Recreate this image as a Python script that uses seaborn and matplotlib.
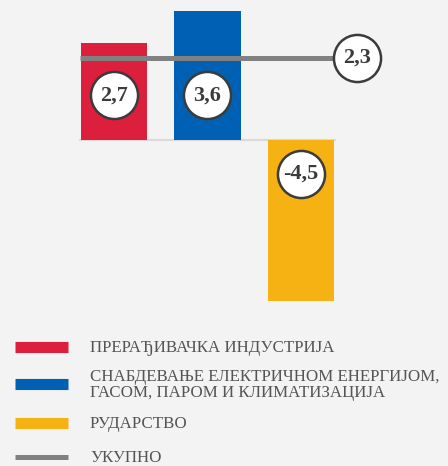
import matplotlib
matplotlib.use("Agg")
import matplotlib.pyplot as plt
import seaborn as sns

# podaci
sektori = ["ПРЕРАЂИВАЧКА ИНДУСТРИЈА",
           "СНАБДЕВАЊЕ ЕЛЕКТРИЧНОМ ЕНЕРГИЈОМ,\nГАСОМ, ПАРОМ И КЛИМАТИЗАЦИЈА",
           "РУДАРСТВО"]
vrednosti = [2.7, 3.6, -4.5]
ukupno = 2.3
ukupno_naziv = "УКУПНО"
boje = ["#dc1f3c", "#0061b4", "#f5b212"]
boja_ukupno = "#818181"
pozadina = "#f2f3f2"

fmt = lambda v: f"{v:.1f}".replace(".", ",")

sns.set_style("white")
plt.rcParams["font.family"] = ["Liberation Serif", "DejaVu Serif"]

fig = plt.figure(figsize=(4.48, 4.66), dpi=100)
fig.patch.set_facecolor(pozadina)

# gornji deo - grafikon
ax = fig.add_axes([0, 1 - 320 / 466, 1, 320 / 466])
ax.set_facecolor(pozadina)
sns.barplot(x=list(range(len(vrednosti))), y=vrednosti, hue=list(range(len(vrednosti))),
            palette=boje, width=0.706, legend=False, ax=ax, saturation=1,
            linewidth=0, zorder=2)

ax.plot([-0.36, 2.36], [0, 0], color="#dadada", lw=1.6, zorder=1)
ax.plot([-0.36, 2.6], [ukupno, ukupno], color=boja_ukupno, lw=3.6, zorder=3,
        solid_capstyle="butt")

krug = dict(s=1150, facecolor="white", edgecolor="#3b3b3b", linewidths=1.8, zorder=4)
tekst = dict(ha="center", va="center", fontsize=16, fontweight="bold",
             color="#3b3b3b", zorder=5)
for i, v in enumerate(vrednosti):
    y = 1.25 if v > 0 else -0.95
    ax.scatter([i], [y], **krug)
    ax.text(i, y, fmt(v), **tekst)
ax.scatter([2.6], [ukupno], **krug)
ax.text(2.6, ukupno, fmt(ukupno), **tekst)

ax.set_xlim(-1.219, 3.572)
ax.set_ylim(-5.03, 3.91)
ax.axis("off")

# legenda
lg = fig.add_axes([0, 0, 1, 146 / 466])
lg.set_xlim(0, 448)
lg.set_ylim(466, 320)
lg.axis("off")
redovi = [347, 384, 423, 457]
nazivi = sektori + [ukupno_naziv]
for y, naziv, boja, lw in zip(redovi, nazivi, boje + [boja_ukupno], [8, 8, 8, 3.6]):
    lg.plot([15, 68], [y, y], color=boja, lw=lw, solid_capstyle="butt")
    lg.text(90, y + 1, naziv, ha="left", va="center", fontsize=12.2,
            color="#555555", linespacing=1.0)

fig.savefig("out.png", dpi=100, facecolor=pozadina)
